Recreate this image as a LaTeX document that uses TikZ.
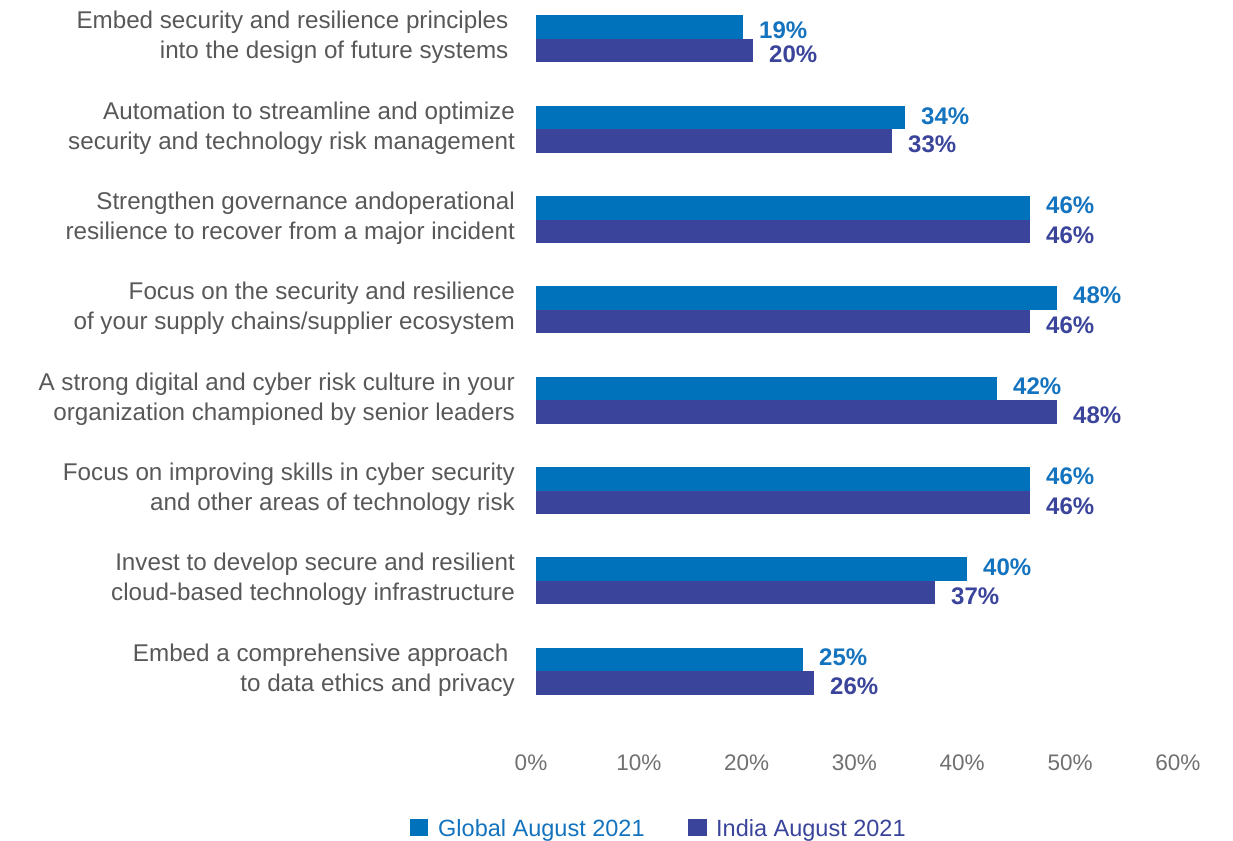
\documentclass[tikz,border=0pt]{standalone}
\usepackage{fontspec}
\setmainfont{Liberation Sans}
\definecolor{gblue}{RGB}{0,113,187}
\definecolor{iblue}{RGB}{58,68,154}
\definecolor{gtext}{RGB}{20,115,190}
\definecolor{itext}{RGB}{58,68,154}
\definecolor{cattext}{RGB}{88,88,88}
\definecolor{axtext}{RGB}{112,112,112}
\tikzset{
  gbar/.style={fill=gblue, draw=none},
  ibar/.style={fill=iblue, draw=none},
  catlabel/.style={anchor=base east, inner sep=0pt, text=cattext, font=\fontsize{24.2}{28}\selectfont},
  glabel/.style={anchor=base west, inner sep=0pt, text=gtext, font=\fontsize{24}{28}\selectfont\bfseries},
  ilabel/.style={anchor=base west, inner sep=0pt, text=itext, font=\fontsize{24}{28}\selectfont\bfseries},
  axlabel/.style={anchor=base, inner sep=0pt, text=axtext, font=\fontsize{22.5}{26}\selectfont},
  legtext/.style={anchor=base west, inner sep=0pt, font=\fontsize{23.5}{26}\selectfont},
}
\begin{document}
\begin{tikzpicture}[x=1pt,y=-1pt]
\useasboundingbox (0,0) rectangle (1233,840);
% bars and value labels
\foreach \i/\ge/\ie/\gl/\il/\go in {0/743/753/19/20/0, 1/905/892/34/33/5, 2/1030/1030/46/46/6, 3/1057/1030/48/46/6, 4/997/1057/42/48/6, 5/1030/1030/46/46/6, 6/967/935/40/37/5, 7/803/814/25/26/6}{
  \pgfmathsetmacro\c{39+90.3*\i}
  \fill[gbar] (536,\c-23.5) rectangle (\ge,\c);
  \fill[ibar] (536,\c) rectangle (\ie,\c+23.5);
  \node[glabel] (gv\i) at (\ge+16,\c-\go) {\gl\%};
  \node[ilabel] (iv\i) at (\ie+16,\c+23.5) {\il\%};
}
% category labels
\foreach \i/\xa/\xb/\la/\lb in {
 0/508.5/508.5/{Embed security and resilience principles}/{into the design of future systems},
 1/515/515/{Automation to streamline and optimize}/{security and technology risk management},
 2/515/515/{Strengthen governance andoperational}/{resilience to recover from a major incident},
 3/515/515/{Focus on the security and resilience}/{of your supply chains/supplier ecosystem},
 4/515/515/{A strong digital and cyber risk culture in your}/{organization championed by senior leaders},
 5/515/515/{Focus on improving skills in cyber security}/{and other areas of technology risk},
 6/515/515/{Invest to develop secure and resilient}/{cloud-based technology infrastructure},
 7/508.5/515/{Embed a comprehensive approach}/{to data ethics and privacy}}{
  \pgfmathsetmacro\c{39+90.3*\i}
  \node[catlabel] (ca\i) at (\xa,\c-10) {\la};
  \node[catlabel] (cb\i) at (\xb,\c+20) {\lb};
}
% axis labels
\foreach \k in {0,...,6}{
  \pgfmathtruncatemacro\v{10*\k}
  \node[axlabel] (ax\k) at (531+107.8*\k,770) {\v\%};
}
% legend
\fill[gblue] (410,819) rectangle (428,836);
\node[legtext, text=gtext] (lg) at (438,836) {Global August 2021};
\fill[iblue] (688,819) rectangle (706.5,836);
\node[legtext, text=itext] (li) at (716,836) {India August 2021};
\end{tikzpicture}
\end{document}
